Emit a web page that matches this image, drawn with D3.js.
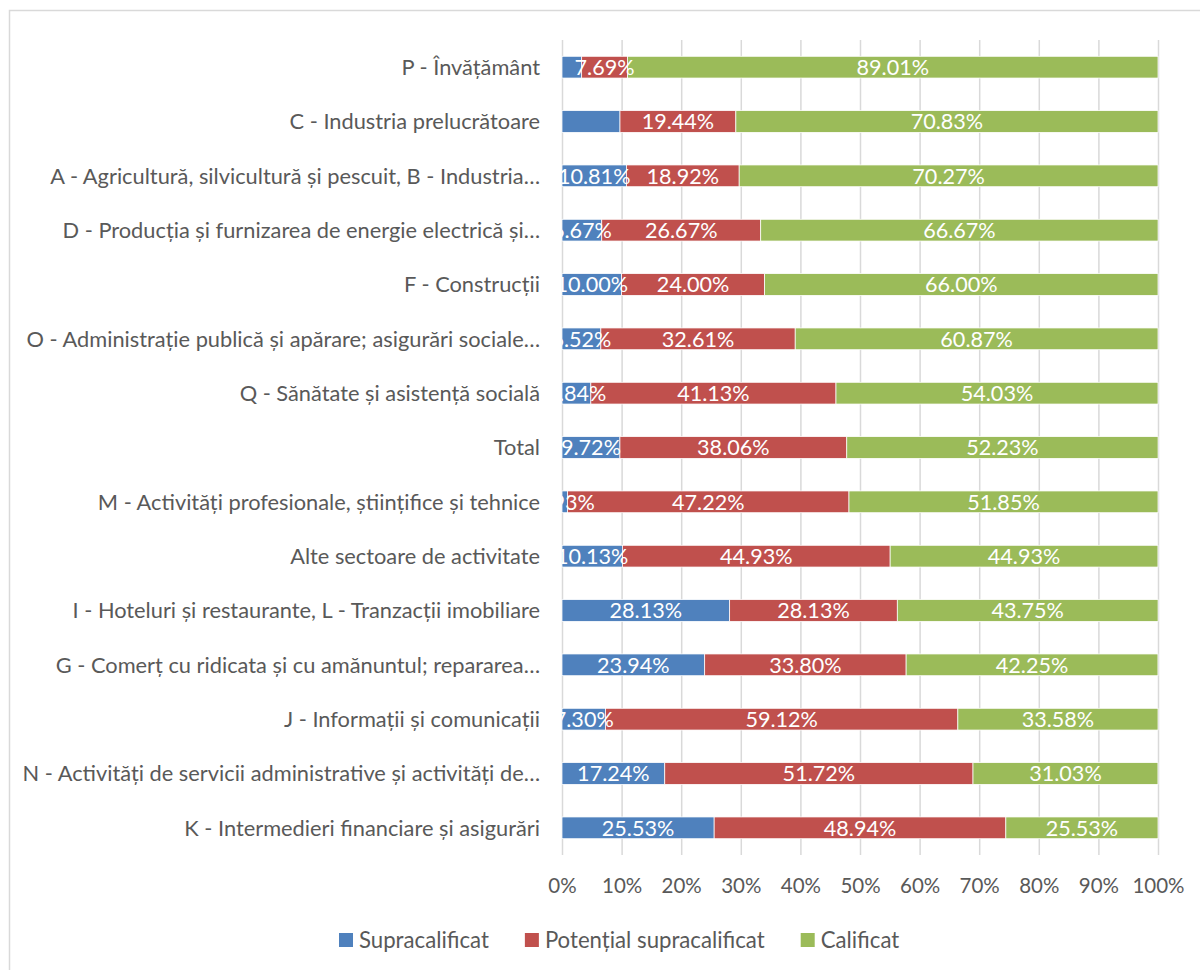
<!DOCTYPE html>
<html>
<head>
<meta charset="utf-8">
<script src="https://cdn.jsdelivr.net/npm/d3@7"></script>
<style>
  html, body { margin: 0; padding: 0; background: #ffffff; }
  svg { display: block; }
  text { font-family: Lato, "Open Sans", sans-serif; }
</style>
</head>
<body>
<svg id="chart" width="1200" height="970"></svg>
<script>
// ---- Data (top-to-bottom order, as displayed) ----
const categories = [
  "P - Învățământ",
  "C - Industria prelucrătoare",
  "A - Agricultură, silvicultură și pescuit, B - Industria…",
  "D - Producția și furnizarea de energie electrică și…",
  "F - Construcții",
  "O - Administrație publică și apărare; asigurări sociale…",
  "Q - Sănătate și asistență socială",
  "Total",
  "M - Activități profesionale, științifice și tehnice",
  "Alte sectoare de activitate",
  "I - Hoteluri și restaurante, L - Tranzacții imobiliare",
  "G - Comerț cu ridicata și cu amănuntul; repararea…",
  "J - Informații și comunicații",
  "N - Activități de servicii administrative și activități de…",
  "K - Intermedieri financiare și asigurări"
];
const seriesNames = ["Supracalificat", "Potențial supracalificat", "Calificat"];
const supracalificat = [3.30, 9.73, 10.81, 6.67, 10.00, 6.52, 4.84, 9.72, 0.93, 10.13, 28.13, 23.94, 7.30, 17.24, 25.53];
const potentialSupracalificat = [7.69, 19.44, 18.92, 26.67, 24.00, 32.61, 41.13, 38.06, 47.22, 44.93, 28.13, 33.80, 59.12, 51.72, 48.94];
const calificat = [89.01, 70.83, 70.27, 66.67, 66.00, 60.87, 54.03, 52.23, 51.85, 44.93, 43.75, 42.25, 33.58, 31.03, 25.53];
// data labels not shown in the original
const hiddenLabels = [["P - Învățământ", "Supracalificat"], ["C - Industria prelucrătoare", "Supracalificat"]];
const tickValues = [0, 0.1, 0.2, 0.3, 0.4, 0.5, 0.6, 0.7, 0.8, 0.9, 1.0];

// ---- Build table ----
const seriesValues = [supracalificat, potentialSupracalificat, calificat];
const table = categories.map((c, i) => {
  const row = { category: c };
  seriesNames.forEach((s, k) => { row[s] = seriesValues[k][i] / 100; });
  return row;
});

const colors = d3.scaleOrdinal().domain(seriesNames).range(["#4F81BD", "#C0504D", "#9BBB59"]);

const svg = d3.select("#chart");
const plot = { left: 562, right: 1158, top: 40, bottom: 855 };
const labelSize = "21.8px";
const tickSize = "20.5px";
const legendSize = "22.2px";

// chart border
svg.append("rect")
  .attr("x", 9.5).attr("y", 10.5)
  .attr("width", 1300).attr("height", 1000)
  .attr("fill", "#ffffff")
  .attr("stroke", "#d9d9d9").attr("stroke-width", 1.5);

const x = d3.scaleLinear().domain([0, 1]).range([plot.left, plot.right]);
const y = d3.scaleBand().domain(categories).range([plot.top, plot.bottom])
  .paddingInner(0.6).paddingOuter(0.3);

// gridlines + tick labels
const xAxis = d3.axisBottom(x)
  .tickValues(tickValues)
  .tickFormat(d3.format(".0%"))
  .tickSize(-(plot.bottom - plot.top))
  .tickPadding(23);

const gx = svg.append("g")
  .attr("transform", `translate(0,${plot.bottom})`)
  .call(xAxis);
gx.select(".domain").remove();
gx.selectAll(".tick line").attr("stroke", "#d9d9d9").attr("stroke-width", 1.5);
gx.selectAll(".tick text")
  .attr("fill", "#595959")
  .style("font-size", tickSize)
  .style("font-family", "Lato, 'Open Sans', sans-serif");

// category labels
svg.append("g").selectAll("text")
  .data(categories)
  .join("text")
  .attr("x", 540)
  .attr("y", d => y(d) + y.bandwidth() / 2)
  .attr("dy", "0.36em")
  .attr("text-anchor", "end")
  .attr("fill", "#595959")
  .style("font-size", labelSize)
  .text(d => d);

// stacked bars
const stack = d3.stack().keys(seriesNames);
const stacked = stack(table);

const clipId = "plotClip";
svg.append("clipPath").attr("id", clipId)
  .append("rect")
  .attr("x", plot.left).attr("y", plot.top)
  .attr("width", plot.right - plot.left).attr("height", plot.bottom - plot.top);

const layers = svg.append("g").selectAll("g")
  .data(stacked)
  .join("g")
  .attr("fill", d => colors(d.key));

layers.selectAll("rect")
  .data(d => d.map(v => ({ key: d.key, v })))
  .join("rect")
  .attr("x", d => x(d.v[0]))
  .attr("y", d => y(d.v.data.category))
  .attr("width", d => x(d.v[1]) - x(d.v[0]))
  .attr("height", y.bandwidth())
  .attr("stroke", "#ffffff")
  .attr("stroke-width", 0.75);

// data labels
const isHidden = (cat, key) => hiddenLabels.some(h => h[0] === cat && h[1] === key);
const labelG = svg.append("g").attr("clip-path", `url(#${clipId})`);
stacked.forEach(layer => {
  layer.forEach(v => {
    const cat = v.data.category;
    if (isHidden(cat, layer.key)) return;
    labelG.append("text")
      .attr("x", x((v[0] + v[1]) / 2))
      .attr("y", y(cat) + y.bandwidth() / 2)
      .attr("dy", "0.36em")
      .attr("text-anchor", "middle")
      .attr("fill", "#ffffff")
      .style("font-size", "21.6px")
      .text((v.data[layer.key] * 100).toFixed(2) + "%");
  });
});

// legend
const legend = svg.append("g");
let lx = 339;
const ly = 940;
seriesNames.forEach(name => {
  legend.append("rect")
    .attr("x", lx).attr("y", ly - 7)
    .attr("width", 14).attr("height", 14)
    .attr("fill", colors(name));
  const t = legend.append("text")
    .attr("x", lx + 20).attr("y", ly)
    .attr("dy", "0.38em")
    .attr("fill", "#595959")
    .style("font-size", legendSize)
    .text(name);
  lx = lx + 20 + t.node().getComputedTextLength() + 36;
});
</script>
</body>
</html>
